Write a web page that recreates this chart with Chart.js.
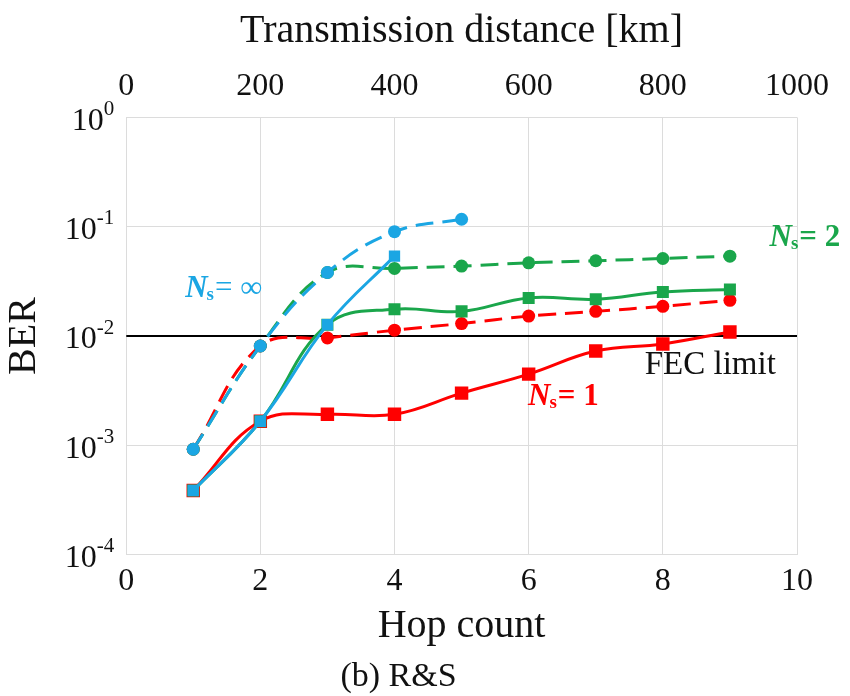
<!DOCTYPE html>
<html>
<head>
<meta charset="utf-8">
<script src="https://cdn.jsdelivr.net/npm/chart.js@4/dist/chart.umd.min.js"></script>
<style>
  html, body { margin: 0; padding: 0; background: #ffffff; }
  #wrap { width: 850px; height: 696px; }
</style>
</head>
<body>
<div id="wrap"><canvas id="c" width="850" height="696"></canvas></div>
<script>
// Hop counts (bottom axis) and BER per configuration
const hops = [1, 2, 3, 4, 5, 6, 7, 8, 9];
const berNs1Solid  = [3.86e-4, 1.66e-3, 1.92e-3, 1.92e-3, 3.0e-3, 4.48e-3, 7.28e-3, 8.45e-3, 1.09e-2];
const berNs1Dashed = [9.2e-4, 8.1e-3, 9.6e-3, 1.13e-2, 1.30e-2, 1.52e-2, 1.68e-2, 1.87e-2, 2.12e-2];
const berNs2Solid  = [3.86e-4, 1.66e-3, 1.27e-2, 1.76e-2, 1.68e-2, 2.23e-2, 2.17e-2, 2.53e-2, 2.66e-2];
const berNs2Dashed = [9.2e-4, 8.1e-3, 3.81e-2, 4.15e-2, 4.36e-2, 4.67e-2, 4.88e-2, 5.12e-2, 5.38e-2];
const berInfSolid  = [3.86e-4, 1.66e-3, 1.27e-2, 5.38e-2];
const berInfDashed = [9.2e-4, 8.1e-3, 3.81e-2, 9.0e-2, 0.117];
const fecLimit = 1e-2;
const hopTicks = [0, 2, 4, 6, 8, 10];
const distanceTicks = [0, 200, 400, 600, 800, 1000];
const berDecades = [1e-4, 1e-3, 1e-2, 1e-1, 1];

const RED = '#ff0000';
const GREEN = '#1aa64b';
const BLUE = '#1ba6e3';
const INK = '#111111';
const SERIF = "'Liberation Serif', 'Times New Roman', serif";

const pts = (ys) => ys.map((y, i) => ({ x: hops[i], y }));

function series(label, ys, color, style, dashed, radius, order) {
  return {
    label,
    data: pts(ys),
    borderColor: color,
    backgroundColor: color,
    pointBackgroundColor: color,
    pointBorderColor: color,
    pointBorderWidth: 0,
    pointStyle: style,
    pointRadius: radius,
    borderWidth: 3,
    borderDash: dashed ? [18, 9] : [],
    tension: 0.4,
    order,
    xAxisID: 'x',
    yAxisID: 'y'
  };
}

const supMap = { '-': '\u207B', '0': '\u2070', '1': '\u00B9', '2': '\u00B2', '3': '\u00B3', '4': '\u2074' };
const sup = (s) => String(s).split('').map(ch => supMap[ch] || ch).join('');
const decadeExp = (v) => Math.round(Math.log10(v));

// Text annotations placed in data coordinates
const notes = [
  { x: 0.88, y: 0.0269, color: BLUE, tail: '= \u221E', tailBold: false },
  { x: 9.59, y: 0.0792, color: GREEN, tail: '= 2', tailBold: true },
  { x: 5.99, y: 0.00274, color: RED, tail: '= 1', tailBold: true }
];
const fecNote = { x: 7.73, y: 0.0054, text: 'FEC limit' };

const notePlugin = {
  id: 'notes',
  afterDatasetsDraw(chart) {
    const { ctx, scales } = chart;
    ctx.save();
    ctx.textBaseline = 'middle';
    ctx.textAlign = 'left';
    notes.forEach(n => {
      let px = scales.x.getPixelForValue(n.x);
      const py = scales.y.getPixelForValue(n.y);
      ctx.fillStyle = n.color;
      ctx.font = `italic bold 31px ${SERIF}`;
      ctx.fillText('N', px, py);
      px += ctx.measureText('N').width - 1;
      ctx.font = `bold 19px ${SERIF}`;
      ctx.fillText('s', px, py + 6);
      px += ctx.measureText('s').width + 1;
      ctx.font = `${n.tailBold ? 'bold ' : ''}31px ${SERIF}`;
      ctx.fillText(n.tail, px, py);
    });
    ctx.fillStyle = INK;
    ctx.font = `33px ${SERIF}`;
    ctx.fillText(fecNote.text, scales.x.getPixelForValue(fecNote.x), scales.y.getPixelForValue(fecNote.y));
    ctx.restore();
  },
  // power-of-ten labels with a raised exponent on the BER axis
  afterDraw(chart) {
    const { ctx } = chart;
    const ys = chart.scales.y;
    const right = ys.right - 12;
    ctx.save();
    ctx.fillStyle = INK;
    ctx.textAlign = 'right';
    ctx.textBaseline = 'middle';
    ys.ticks.forEach(t => {
      const py = ys.getPixelForValue(t.value);
      const e = String(decadeExp(t.value));
      ctx.font = `21px ${SERIF}`;
      ctx.fillText(e, right, py - 8);
      const ew = ctx.measureText(e).width;
      ctx.font = `32px ${SERIF}`;
      ctx.fillText('10', right - ew, py + 4);
    });
    ctx.restore();
  }
};

const gridColor = '#dcdcdc';

new Chart(document.getElementById('c'), {
  type: 'line',
  data: {
    datasets: [
      {
        label: 'FEC limit',
        data: [{ x: 0, y: fecLimit }, { x: 10, y: fecLimit }],
        borderColor: '#000000',
        borderWidth: 2,
        pointRadius: 0,
        order: 10,
        xAxisID: 'x',
        yAxisID: 'y'
      },
      series('Ns=1 solid', berNs1Solid, RED, 'rect', false, 9.5, 9),
      series('Ns=1 dashed', berNs1Dashed, RED, 'circle', true, 6.5, 8),
      series('Ns=2 solid', berNs2Solid, GREEN, 'rect', false, 8.5, 7),
      series('Ns=2 dashed', berNs2Dashed, GREEN, 'circle', true, 6.5, 6),
      series('Ns=inf solid', berInfSolid, BLUE, 'rect', false, 8, 5),
      series('Ns=inf dashed', berInfDashed, BLUE, 'circle', true, 6.5, 4)
    ]
  },
  options: {
    responsive: false,
    animation: false,
    devicePixelRatio: 1,
    layout: { padding: { left: 0, right: 53, top: 7, bottom: 0 } },
    plugins: {
      legend: { display: false },
      tooltip: { enabled: false },
      title: {
        display: true,
        position: 'bottom',
        text: '(b) R&S',
        color: INK,
        font: { family: SERIF, size: 34, weight: 'normal', lineHeight: 1.0 },
        padding: { top: 0, bottom: 2 }
      }
    },
    scales: {
      x: {
        type: 'linear',
        position: 'bottom',
        min: 0, max: 10,
        afterBuildTicks: (s) => { s.ticks = hopTicks.map(v => ({ value: v })); },
        ticks: { color: INK, font: { family: SERIF, size: 32, lineHeight: 0.45 }, padding: 20 },
        grid: { color: gridColor, drawTicks: false, lineWidth: 1 },
        border: { color: gridColor, width: 1 },
        title: {
          display: true, text: 'Hop count', color: INK,
          font: { family: SERIF, size: 40, lineHeight: 0.85 }, padding: { top: 0, bottom: 17 }
        }
      },
      x2: {
        type: 'linear',
        position: 'top',
        min: 0, max: 1000,
        afterBuildTicks: (s) => { s.ticks = distanceTicks.map(v => ({ value: v })); },
        ticks: {
          color: INK, font: { family: SERIF, size: 32 }, padding: 12,
          callback: (v) => String(v)
        },
        grid: { display: false, drawTicks: false },
        border: { display: false },
        title: {
          display: true, text: 'Transmission distance [km]', color: INK,
          font: { family: SERIF, size: 40 }, padding: { top: 0, bottom: 0 }
        }
      },
      y: {
        type: 'logarithmic',
        min: 1e-4, max: 1,
        afterBuildTicks: (s) => { s.ticks = berDecades.map(v => ({ value: v })); },
        ticks: {
          color: 'rgba(0,0,0,0)',
          font: { family: SERIF, size: 32 },
          padding: 12,
          callback: (v) => '10' + sup(decadeExp(v))
        },
        grid: { color: gridColor, drawTicks: false, lineWidth: 1 },
        border: { color: gridColor, width: 1 },
        title: {
          display: true, text: 'BER', color: INK,
          font: { family: SERIF, size: 40 }, padding: { top: 0, bottom: 0 }
        }
      }
    }
  },
  plugins: [notePlugin]
});
</script>
</body>
</html>
